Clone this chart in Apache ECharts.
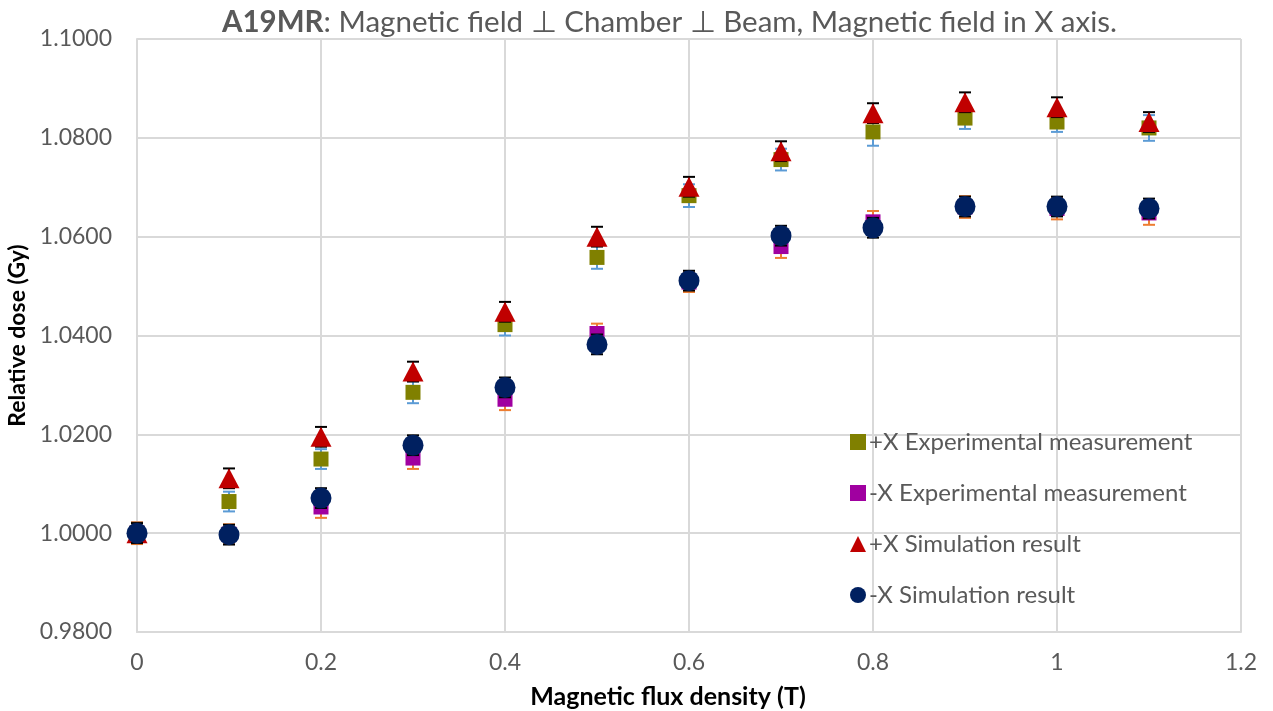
<!DOCTYPE html>
<html><head><meta charset="utf-8">
<script src="https://cdn.jsdelivr.net/npm/echarts@6/dist/echarts.min.js"></script>
<style>html,body{margin:0;padding:0;background:#fff}#c{width:1273px;height:711px}</style>
</head><body><div id="c"></div>
<script>
const xValues = [0, 0.1, 0.2, 0.3, 0.4, 0.5, 0.6, 0.7, 0.8, 0.9, 1.0, 1.1];
const plusExp  = [1.0000, 1.0064, 1.0150, 1.0285, 1.0422, 1.0558, 1.0683, 1.0756, 1.0812, 1.0840, 1.0832, 1.0820];
const minusExp = [1.0000, 0.9998, 1.0053, 1.0152, 1.0271, 1.0404, 1.0508, 1.0580, 1.0630, 1.0660, 1.0657, 1.0648];
const plusSim  = [1.0000, 1.0111, 1.0195, 1.0327, 1.0448, 1.0600, 1.0701, 1.0773, 1.0850, 1.0872, 1.0862, 1.0832];
const minusSim = [1.0000, 0.9997, 1.0071, 1.0178, 1.0295, 1.0382, 1.0511, 1.0602, 1.0618, 1.0661, 1.0661, 1.0657];
const errPlusExp  = [0.0022, 0.0020, 0.0020, 0.0022, 0.0022, 0.0023, 0.0023, 0.0022, 0.0028, 0.0022, 0.0020, 0.0026];
const errMinusExp = [0.0022, 0.0020, 0.0022, 0.0022, 0.0022, 0.0020, 0.0020, 0.0023, 0.0022, 0.0022, 0.0022, 0.0024];
const errPlusSim  = [0.0020, 0.0020, 0.0020, 0.0020, 0.0020, 0.0020, 0.0020, 0.0020, 0.0020, 0.0020, 0.0020, 0.0020];
const errMinusSim = [0.0020, 0.0020, 0.0020, 0.0020, 0.0020, 0.0020, 0.0020, 0.0020, 0.0020, 0.0020, 0.0020, 0.0020];
const seriesNames = ['+X Experimental measurement', '-X Experimental measurement', '+X Simulation result', '-X Simulation result'];
const xTicks = {min: 0, max: 1.2, interval: 0.2};
const yTicks = {min: 0.98, max: 1.10, interval: 0.02};

const FONT = 'Lato, "Open Sans", sans-serif';
const TXT = '#595959';

function pts(vals){ return xValues.map((x,i)=>[x, vals[i]]); }
function errData(vals, errs){ return xValues.map((x,i)=>[x, vals[i]-errs[i], vals[i]+errs[i]]); }
function errSeries(vals, errs, color, z){
  return {
    type: 'custom', silent: true, z: z,
    data: errData(vals, errs),
    renderItem: function(params, api){
      const lo = api.coord([api.value(0), api.value(1)]);
      const hi = api.coord([api.value(0), api.value(2)]);
      const w = 6;
      const st = {stroke: color, lineWidth: 2};
      return {type:'group', children:[
        {type:'line', shape:{x1:lo[0], y1:lo[1], x2:hi[0], y2:hi[1]}, style: st},
        {type:'line', shape:{x1:lo[0]-w, y1:lo[1], x2:lo[0]+w, y2:lo[1]}, style: st},
        {type:'line', shape:{x1:hi[0]-w, y1:hi[1], x2:hi[0]+w, y2:hi[1]}, style: st}
      ]};
    }
  };
}

const chart = echarts.init(document.getElementById('c'), null, {renderer:'canvas'});
chart.setOption({
  backgroundColor: '#fff',
  animation: false,
  title: {
    text: '{b|A19MR}: Magnetic field ⊥ Chamber ⊥ Beam, Magnetic field in X axis.',
    left: 217, top: 2,
    textStyle: {fontFamily: FONT, fontSize: 29.5, fontWeight: 'normal', color: TXT,
      rich: {b: {fontFamily: FONT, fontSize: 29.5, fontWeight: 'bold', color: TXT}}}
  },
  grid: {left: 137, right: 32, top: 39, bottom: 79, outerBoundsMode: 'none', containLabel: false},
  legend: {
    orient: 'vertical', left: 845, top: 425, itemGap: 27, itemWidth: 16, itemHeight: 16,
    textStyle: {fontFamily: FONT, fontSize: 24, color: TXT, padding: [0,0,0,-2]},
    data: [
      {name: seriesNames[0], icon: 'rect', itemStyle:{color:'#808000', opacity: 1}},
      {name: seriesNames[1], icon: 'rect', itemStyle:{color:'#A000A0', opacity: 1}},
      {name: seriesNames[2], icon: 'triangle', itemStyle:{color:'#C00000', opacity: 1}},
      {name: seriesNames[3], icon: 'circle', itemStyle:{color:'#002060', opacity: 1}}
    ]
  },
  xAxis: {
    type: 'value', min: xTicks.min, max: xTicks.max, interval: xTicks.interval,
    name: 'Magnetic flux density (T)', nameLocation: 'middle', nameGap: 52,
    nameTextStyle: {fontFamily: FONT, fontSize: 25, fontWeight: 'bold', color: '#000', padding: [0, 42, 0, 0]},
    axisLine: {show: true, lineStyle: {color: '#d9d9d9', width: 2}},
    axisTick: {show: false},
    axisLabel: {fontFamily: FONT, fontSize: 23, color: TXT, margin: 19,
      formatter: v => String(Math.round(v*10)/10)},
    splitLine: {show: true, lineStyle: {color: '#d9d9d9', width: 2}}
  },
  yAxis: {
    type: 'value', min: yTicks.min, max: yTicks.max, interval: yTicks.interval,
    name: 'Relative dose (Gy)', nameLocation: 'middle', nameGap: 103, nameRotate: 90,
    nameTextStyle: {fontFamily: FONT, fontSize: 23, fontWeight: 'bold', color: '#000'},
    axisLine: {show: true, lineStyle: {color: '#d9d9d9', width: 2}},
    axisTick: {show: false},
    axisLabel: {fontFamily: FONT, fontSize: 23, color: TXT, margin: 25,
      formatter: v => v.toFixed(4)},
    splitLine: {show: true, lineStyle: {color: '#d9d9d9', width: 2}}
  },
  series: [
    errSeries(plusExp, errPlusExp, '#5B9BD5', 2),
    {name: seriesNames[0], type: 'scatter', symbol: 'rect', symbolSize: 15, z: 3,
      itemStyle: {color: '#808000', opacity: 1}, data: pts(plusExp)},
    errSeries(minusExp, errMinusExp, '#ED7D31', 4),
    {name: seriesNames[1], type: 'scatter', symbol: 'rect', symbolSize: 15, z: 5,
      itemStyle: {color: '#A000A0', opacity: 1}, data: pts(minusExp)},
    errSeries(plusSim, errPlusSim, '#000000', 6),
    {name: seriesNames[2], type: 'scatter', symbol: 'triangle', symbolSize: [21, 20], z: 7,
      itemStyle: {color: '#C00000', opacity: 1}, data: pts(plusSim)},
    errSeries(minusSim, errMinusSim, '#000000', 8),
    {name: seriesNames[3], type: 'scatter', symbol: 'circle', symbolSize: 21, z: 9,
      itemStyle: {color: '#002060', opacity: 1}, data: pts(minusSim)}
  ]
});
</script></body></html>
